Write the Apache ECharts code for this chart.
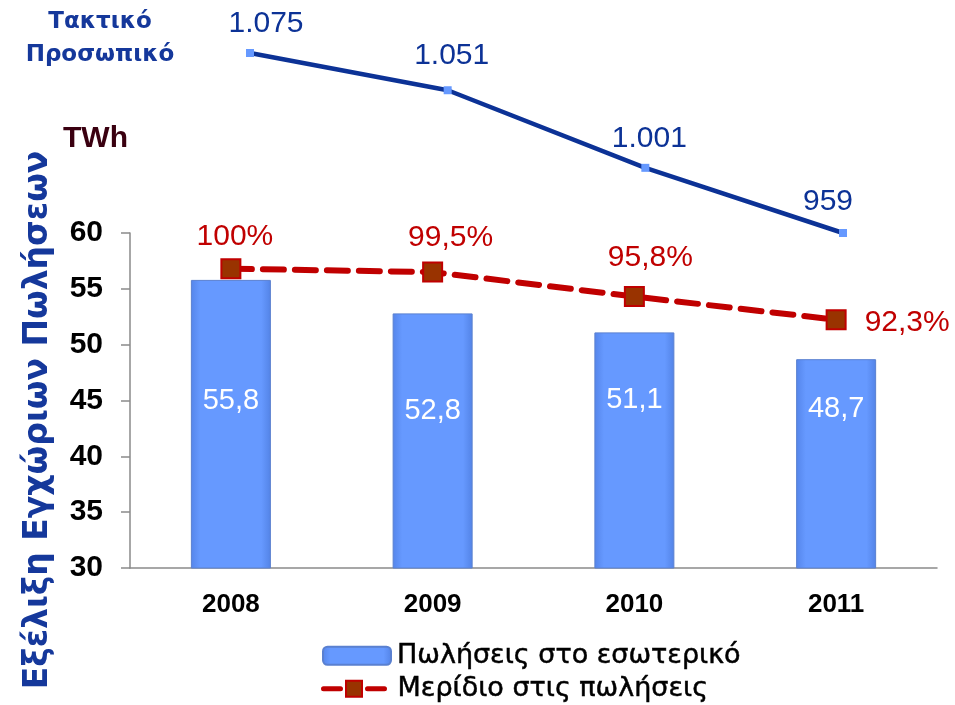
<!DOCTYPE html>
<html>
<head>
<meta charset="utf-8">
<script src="https://cdn.jsdelivr.net/npm/echarts@6/dist/echarts.min.js"></script>
<style>
  html, body { margin: 0; padding: 0; background: #fff; }
  #chart { width: 955px; height: 705px; }
</style>
</head>
<body>
<div id="chart"></div>
<script>
const years = ['2008', '2009', '2010', '2011']
const sales = [55.8, 52.8, 51.1, 48.7]          // TWh
const share = [100, 99.5, 95.8, 92.3]           // %
const staff = [1075, 1051, 1001, 959]           // τακτικό προσωπικό
const yTicks = [30, 35, 40, 45, 50, 55, 60]

// label nudges
const barLabelShift = [-23, -30, -50, -55]
const pctLabelShift = [[4, -2], [18, -4], [16, -8], [0, 3]]
const staffLabelShift = [[16, 1], [4, -5], [4, 1], [-15, -1]]

const comma = v => String(v).replace('.', ',')
const thousands = v => v >= 1000 ? Math.floor(v / 1000) + '.' + String(v % 1000).padStart(3, '0') : String(v)

const chart = echarts.init(document.getElementById('chart'))

const legendText = {
  fontFamily: 'DejaVu Sans', fontSize: 27, color: '#000',
  textBorderColor: '#000', textBorderWidth: 0.5
}

const option = {
  animation: false,
  textStyle: { fontFamily: 'Liberation Sans, Arial, sans-serif' },
  grid: [
    { left: 130, right: 18, top: 233, bottom: 137 },
    { left: 250, right: 112, top: 53, bottom: 472 }
  ],
  xAxis: [
    {
      type: 'category',
      gridIndex: 0,
      data: years,
      axisLine: { lineStyle: { color: '#8a8a8a', width: 1.5 } },
      axisTick: { show: false },
      axisLabel: { color: '#000', fontSize: 26, fontWeight: 'bold', margin: 24 }
    },
    {
      type: 'category',
      gridIndex: 1,
      data: years,
      boundaryGap: false,
      show: false
    }
  ],
  yAxis: [
    {
      type: 'value',
      gridIndex: 0,
      min: yTicks[0],
      max: yTicks[yTicks.length - 1],
      interval: 5,
      splitLine: { show: false },
      axisLine: { show: true, lineStyle: { color: '#8a8a8a', width: 1.5 } },
      axisTick: { show: true, length: 9, lineStyle: { color: '#8a8a8a', width: 1.5 } },
      axisLabel: { color: '#000', fontSize: 30, fontWeight: 'bold', margin: 27 }
    },
    {
      type: 'value',
      gridIndex: 0,
      min: 54.8,
      max: 105.4,
      show: false,
      splitLine: { show: false }
    },
    {
      type: 'value',
      gridIndex: 1,
      min: staff[staff.length - 1],
      max: staff[0],
      show: false,
      splitLine: { show: false }
    }
  ],
  legend: [
    {
      data: ['Πωλήσεις στο εσωτερικό'],
      left: 317, top: 637,
      itemWidth: 68, itemHeight: 18,
      textStyle: Object.assign({ padding: [0, 0, 0, 1] }, legendText)
    },
    {
      data: ['Μερίδιο στις πωλήσεις'],
      left: 316, top: 670,
      itemWidth: 61, itemHeight: 20,
      lineStyle: { width: 5, type: [17, 27], color: '#c00000' },
      textStyle: Object.assign({ padding: [0, 0, 0, 8] }, legendText)
    }
  ],
  series: [
    {
      name: 'Πωλήσεις στο εσωτερικό',
      type: 'bar',
      xAxisIndex: 0, yAxisIndex: 0,
      barWidth: 80,
      itemStyle: {
        color: new echarts.graphic.LinearGradient(0, 0, 1, 0, [
          { offset: 0, color: '#5585ea' },
          { offset: 0.12, color: '#6699ff' },
          { offset: 0.88, color: '#6699ff' },
          { offset: 1, color: '#5383e6' }
        ]),
        borderColor: '#5a80d0',
        borderWidth: 1
      },
      data: sales.map((v, i) => ({
        value: v,
        label: { offset: [0, barLabelShift[i]] }
      })),
      label: {
        show: true,
        position: 'inside',
        color: '#fff',
        fontSize: 29,
        formatter: p => comma(p.value)
      },
      z: 2
    },
    {
      name: 'Μερίδιο στις πωλήσεις',
      type: 'line',
      xAxisIndex: 0, yAxisIndex: 1,
      symbol: 'rect',
      symbolSize: 19,
      lineStyle: { color: '#c00000', width: 6, type: [21, 11], cap: 'round' },
      itemStyle: { color: '#993300', borderColor: '#c00000', borderWidth: 2 },
      data: share.map((v, i) => ({
        value: v,
        label: i === share.length - 1
          ? { position: 'right', distance: 18, offset: pctLabelShift[i] }
          : { position: 'top', distance: 5, offset: pctLabelShift[i] }
      })),
      label: {
        show: true,
        color: '#c00000',
        fontSize: 30,
        formatter: p => comma(p.value) + '%'
      },
      z: 4
    },
    {
      name: 'Τακτικό Προσωπικό',
      type: 'line',
      xAxisIndex: 1, yAxisIndex: 2,
      symbol: 'rect',
      symbolSize: 8,
      lineStyle: { color: '#0c3296', width: 4.5 },
      itemStyle: { color: '#6699ff' },
      data: staff.map((v, i) => ({
        value: v,
        label: { offset: staffLabelShift[i] }
      })),
      label: {
        show: true,
        position: 'top',
        distance: 11,
        color: '#0c3296',
        fontSize: 30,
        formatter: p => thousands(p.value)
      },
      z: 3
    }
  ],
  graphic: [
    {
      type: 'text',
      style: {
        x: 100, y: 39, text: 'Τακτικό\nΠροσωπικό',
        font: 'bold 23px "DejaVu Sans"', fill: '#15389b',
        align: 'center', verticalAlign: 'middle', lineHeight: 33
      }
    },
    {
      type: 'text',
      style: {
        x: 63, y: 139, text: 'TWh',
        font: 'bold 30px "Liberation Sans", Arial',
        fill: '#3a0010', verticalAlign: 'middle'
      }
    },
    {
      type: 'text',
      x: 38, y: 420, rotation: Math.PI / 2,
      style: {
        x: 0, y: 0, text: 'Εξέλιξη Εγχώριων Πωλήσεων',
        font: 'bold 33px "DejaVu Sans"', fill: '#15389b',
        align: 'center', verticalAlign: 'middle'
      }
    }
  ]
}

chart.setOption(option)
</script>
</body>
</html>
